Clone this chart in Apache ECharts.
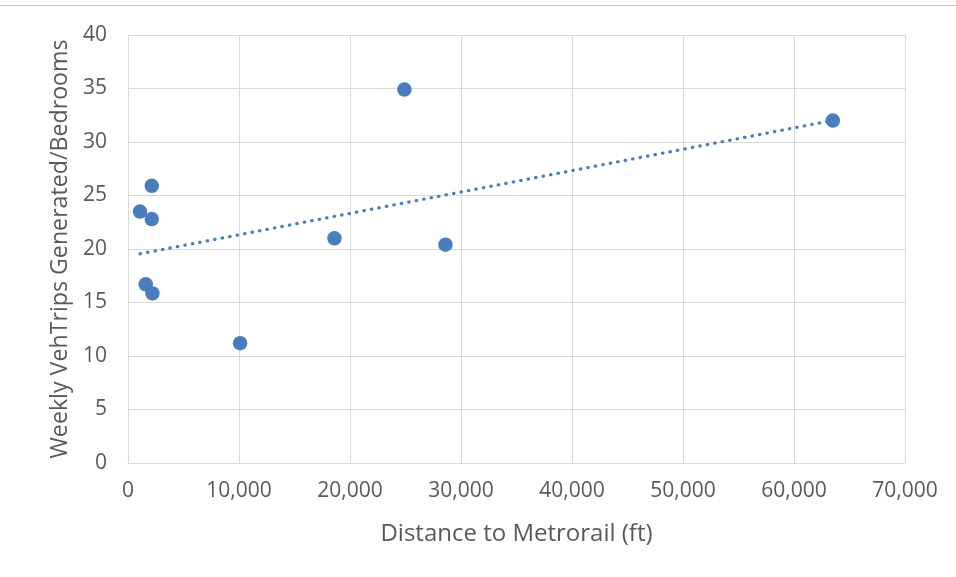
<!DOCTYPE html>
<html><head><meta charset="utf-8">
<script src="https://cdn.jsdelivr.net/npm/echarts@6/dist/echarts.min.js"></script>
<style>html,body{margin:0;padding:0;background:#fff}#c{width:956px;height:577px}</style>
</head><body><div id="c"></div>
<script>
const distanceFt = [1083, 2140, 2140, 1600, 2200, 10100, 18600, 24900, 28600, 63500];
const tripsPerBedroom = [23.5, 25.9, 22.8, 16.7, 15.85, 11.2, 21.0, 34.9, 20.4, 32.0];
const xTitle = 'Distance to Metrorail (ft)';
const yTitle = 'Weekly VehTrips Generated/Bedrooms';

const points = distanceFt.map((x, i) => [x, tripsPerBedroom[i]]);
// linear least-squares trendline (as in the source spreadsheet)
const n = distanceFt.length;
const mx = distanceFt.reduce((a, b) => a + b, 0) / n;
const my = tripsPerBedroom.reduce((a, b) => a + b, 0) / n;
let sxy = 0, sxx = 0;
for (let i = 0; i < n; i++) { sxy += (distanceFt[i] - mx) * (tripsPerBedroom[i] - my); sxx += (distanceFt[i] - mx) ** 2; }
const slope = sxy / sxx, icpt = my - slope * mx;
const xMin = Math.min(...distanceFt), xMax = Math.max(...distanceFt);
const trend = [[xMin, icpt + slope * xMin], [xMax, icpt + slope * xMax]];

const FONT = 'Open Sans';
const chart = echarts.init(document.getElementById('c'), null, {renderer: 'canvas'});
chart.setOption({
  animation: false,
  textStyle: {fontFamily: FONT},
  graphic: [{type: 'line', shape: {x1: 0, y1: 5.5, x2: 956, y2: 5.5}, style: {stroke: '#c3c3c3', lineWidth: 1}}],
  grid: {left: 128, right: 51, top: 35, bottom: 114},
  xAxis: {
    type: 'value', min: 0, max: 70000, interval: 10000,
    name: xTitle, nameLocation: 'middle', nameGap: 59,
    nameTextStyle: {fontFamily: FONT, fontSize: 24, color: '#595959'},
    axisLine: {show: true, lineStyle: {color: '#d9d9d9', width: 1}},
    axisTick: {show: false},
    axisLabel: {fontFamily: FONT, fontSize: 21, color: '#595959', margin: 18,
      formatter: v => v.toLocaleString('en-US')},
    splitLine: {show: true, lineStyle: {color: '#d9d9d9', width: 1}}
  },
  yAxis: {
    type: 'value', min: 0, max: 40, interval: 5,
    name: yTitle, nameLocation: 'middle', nameGap: 55, nameRotate: 90,
    nameTextStyle: {fontFamily: FONT, fontSize: 23.2, color: '#595959'},
    axisLine: {show: true, lineStyle: {color: '#d9d9d9', width: 1}},
    axisTick: {show: false},
    axisLabel: {fontFamily: FONT, fontSize: 21, color: '#595959', margin: 21},
    splitLine: {show: true, lineStyle: {color: '#d9d9d9', width: 1}}
  },
  series: [
    {type: 'line', data: trend, symbol: 'none', silent: true, z: 2,
      lineStyle: {color: '#4a7dbb', width: 3.2, type: [0.5, 7.1], cap: 'round'}},
    {type: 'scatter', data: points, symbol: 'circle', symbolSize: 14.5, z: 3,
      itemStyle: {color: '#4a7dbb', opacity: 1}}
  ]
});
</script></body></html>
